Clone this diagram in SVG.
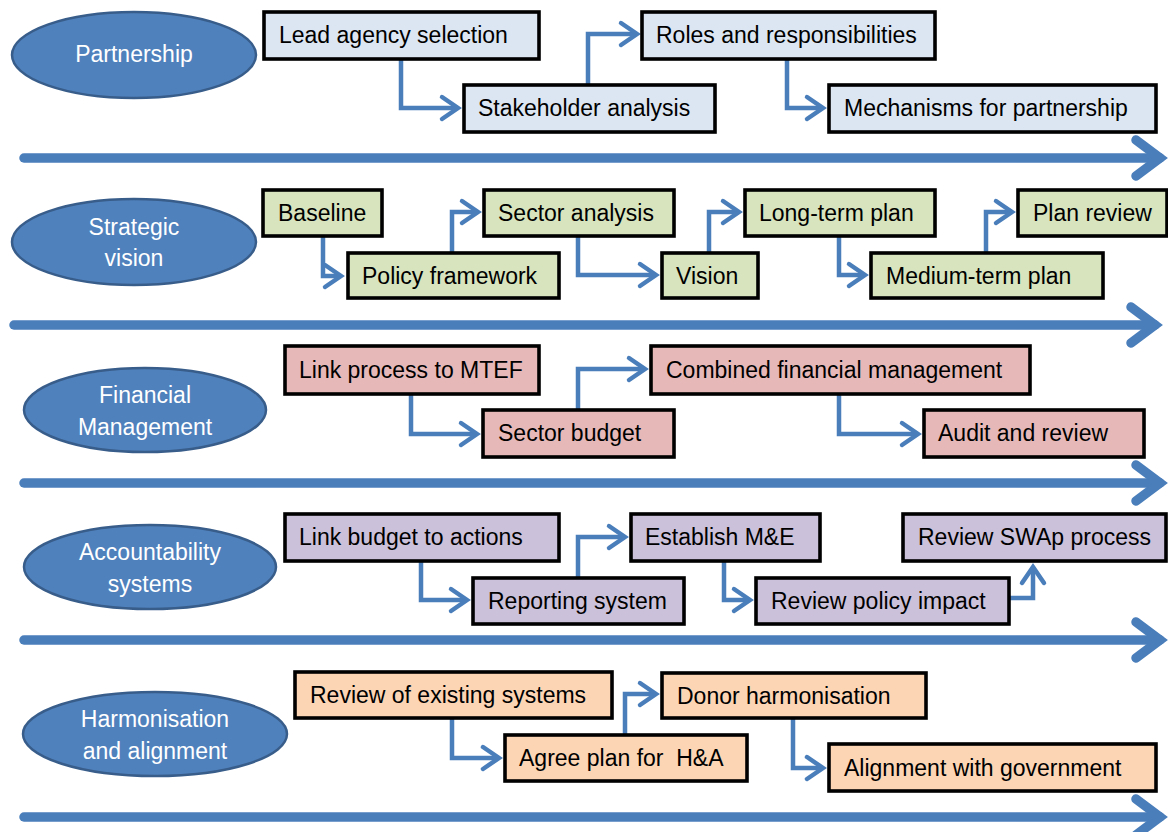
<svg xmlns="http://www.w3.org/2000/svg" width="1168" height="832" viewBox="0 0 1168 832">
<style>
.t{font-family:"Liberation Sans",Arial,sans-serif;font-size:23px;fill:#000}
.lt{font-family:"Liberation Sans",Arial,sans-serif;font-size:23px;fill:#fff;text-anchor:middle}
.lane{fill:#4f81bd;stroke:#385d8a;stroke-width:2.5}
.box{stroke:#000;stroke-width:3.6}
.r1{fill:#dce6f2}.r2{fill:#d7e4bd}.r3{fill:#e6b9b8}.r4{fill:#ccc1da}.r5{fill:#fcd5b5}
.conn{fill:none;stroke:#4a7ebb;stroke-width:4.5;marker-end:url(#ah)}
.axis{fill:none;stroke:#4a7ebb;stroke-width:9.5;stroke-linecap:round}
.axh{fill:none;stroke:#4a7ebb;stroke-width:9.5;stroke-linecap:round;stroke-linejoin:miter}
</style>
<defs>
<marker id="ah" markerUnits="userSpaceOnUse" markerWidth="30" markerHeight="30" refX="0" refY="0" orient="auto" overflow="visible">
<path d="M-16,-11 L0,0 L-16,11" fill="none" stroke="#4a7ebb" stroke-width="4.5" stroke-linecap="round"/>
</marker>
</defs>
<rect width="1168" height="832" fill="#fff"/>
<g id="axes">
<path class="axis" d="M24,158 H1160"/><path class="axh" d="M1136,140 L1160,158 L1136,176"/>
<path class="axis" d="M14,325 H1155"/><path class="axh" d="M1131,307 L1155,325 L1131,343"/>
<path class="axis" d="M24,483 H1160"/><path class="axh" d="M1136,465 L1160,483 L1136,501"/>
<path class="axis" d="M24,640 H1160"/><path class="axh" d="M1136,622 L1160,640 L1136,658"/>
<path class="axis" d="M24,817 H1160"/><path class="axh" d="M1136,799 L1160,817 L1136,835"/>
</g>
<g id="connectors">
<path class="conn" d="M401,59 V108 H458"/>
<path class="conn" d="M588,85 V34 H637"/>
<path class="conn" d="M787,59 V108 H823"/>
<path class="conn" d="M323,236 V276 H341"/>
<path class="conn" d="M452,253 V212 H478"/>
<path class="conn" d="M578,236 V275 H656"/>
<path class="conn" d="M709,253 V212 H739"/>
<path class="conn" d="M839,236 V275 H865"/>
<path class="conn" d="M986,253 V212 H1012"/>
<path class="conn" d="M411,394 V434 H477"/>
<path class="conn" d="M578,410 V369 H645"/>
<path class="conn" d="M839,394 V434 H918"/>
<path class="conn" d="M421,561 V600 H467"/>
<path class="conn" d="M578,578 V537 H625"/>
<path class="conn" d="M724,561 V600 H750"/>
<path class="conn" d="M1009,598 H1033 V567"/>
<path class="conn" d="M452,718 V758 H499"/>
<path class="conn" d="M625,735 V694 H656"/>
<path class="conn" d="M793,718 V768 H823"/>
</g>
<g id="lane-partnership"><ellipse class="lane" cx="134" cy="55" rx="122" ry="43"/><text class="lt" x="134" y="62">Partnership</text></g>
<g id="lane-strategic"><ellipse class="lane" cx="134" cy="242" rx="122" ry="43"/><text class="lt" x="134" y="235">Strategic</text><text class="lt" x="134" y="266">vision</text></g>
<g id="lane-financial"><ellipse class="lane" cx="145" cy="410" rx="121" ry="42"/><text class="lt" x="145" y="403">Financial</text><text class="lt" x="145" y="435">Management</text></g>
<g id="lane-accountability"><ellipse class="lane" cx="150" cy="567" rx="126" ry="42"/><text class="lt" x="150" y="560">Accountability</text><text class="lt" x="150" y="592">systems</text></g>
<g id="lane-harmonisation"><ellipse class="lane" cx="155" cy="734" rx="132" ry="42"/><text class="lt" x="155" y="727">Harmonisation</text><text class="lt" x="155" y="759">and alignment</text></g>

<g id="n-lead"><rect class="box r1" x="264" y="12" width="275" height="47"/><text class="t" x="279" y="43">Lead agency selection</text></g>
<g id="n-stake"><rect class="box r1" x="464" y="85" width="251" height="47"/><text class="t" x="478" y="116">Stakeholder analysis</text></g>
<g id="n-roles"><rect class="box r1" x="642" y="12" width="293" height="47"/><text class="t" x="656" y="43">Roles and responsibilities</text></g>
<g id="n-mech"><rect class="box r1" x="829" y="85" width="327" height="47"/><text class="t" x="844" y="116">Mechanisms for partnership</text></g>

<g id="n-baseline"><rect class="box r2" x="263" y="190" width="119" height="46"/><text class="t" x="278" y="221">Baseline</text></g>
<g id="n-policy"><rect class="box r2" x="348" y="253" width="211" height="45"/><text class="t" x="362" y="284">Policy framework</text></g>
<g id="n-sector"><rect class="box r2" x="484" y="190" width="190" height="46"/><text class="t" x="498" y="221">Sector analysis</text></g>
<g id="n-vision"><rect class="box r2" x="662" y="253" width="96" height="45"/><text class="t" x="676" y="284">Vision</text></g>
<g id="n-long"><rect class="box r2" x="745" y="190" width="190" height="46"/><text class="t" x="759" y="221">Long-term plan</text></g>
<g id="n-medium"><rect class="box r2" x="871" y="253" width="232" height="45"/><text class="t" x="886" y="284">Medium-term plan</text></g>
<g id="n-planreview"><rect class="box r2" x="1018" y="190" width="149" height="46"/><text class="t" x="1033" y="221">Plan review</text></g>

<g id="n-link"><rect class="box r3" x="285" y="346" width="254" height="48"/><text class="t" x="299" y="378">Link process to MTEF</text></g>
<g id="n-sbudget"><rect class="box r3" x="483" y="410" width="191" height="47"/><text class="t" x="498" y="441">Sector budget</text></g>
<g id="n-combined"><rect class="box r3" x="651" y="346" width="379" height="48"/><text class="t" x="666" y="378">Combined financial management</text></g>
<g id="n-audit"><rect class="box r3" x="924" y="410" width="220" height="47"/><text class="t" x="938" y="441">Audit and review</text></g>

<g id="n-linkb"><rect class="box r4" x="285" y="514" width="274" height="47"/><text class="t" x="299" y="545">Link budget to actions</text></g>
<g id="n-report"><rect class="box r4" x="473" y="578" width="211" height="46"/><text class="t" x="488" y="609">Reporting system</text></g>
<g id="n-establish"><rect class="box r4" x="631" y="514" width="189" height="47"/><text class="t" x="645" y="545">Establish M&amp;E</text></g>
<g id="n-reviewp"><rect class="box r4" x="756" y="578" width="253" height="46"/><text class="t" x="771" y="609">Review policy impact</text></g>
<g id="n-swap"><rect class="box r4" x="903" y="514" width="263" height="47"/><text class="t" x="918" y="545">Review SWAp process</text></g>

<g id="n-existing"><rect class="box r5" x="295" y="672" width="317" height="46"/><text class="t" x="310" y="703">Review of existing systems</text></g>
<g id="n-agree"><rect class="box r5" x="505" y="735" width="242" height="46"/><text class="t" x="519" y="766">Agree plan for&#160; H&amp;A</text></g>
<g id="n-donor"><rect class="box r5" x="662" y="673" width="264" height="45"/><text class="t" x="677" y="704">Donor harmonisation</text></g>
<g id="n-align"><rect class="box r5" x="829" y="744" width="327" height="47"/><text class="t" x="844" y="776">Alignment with government</text></g>
</svg>
